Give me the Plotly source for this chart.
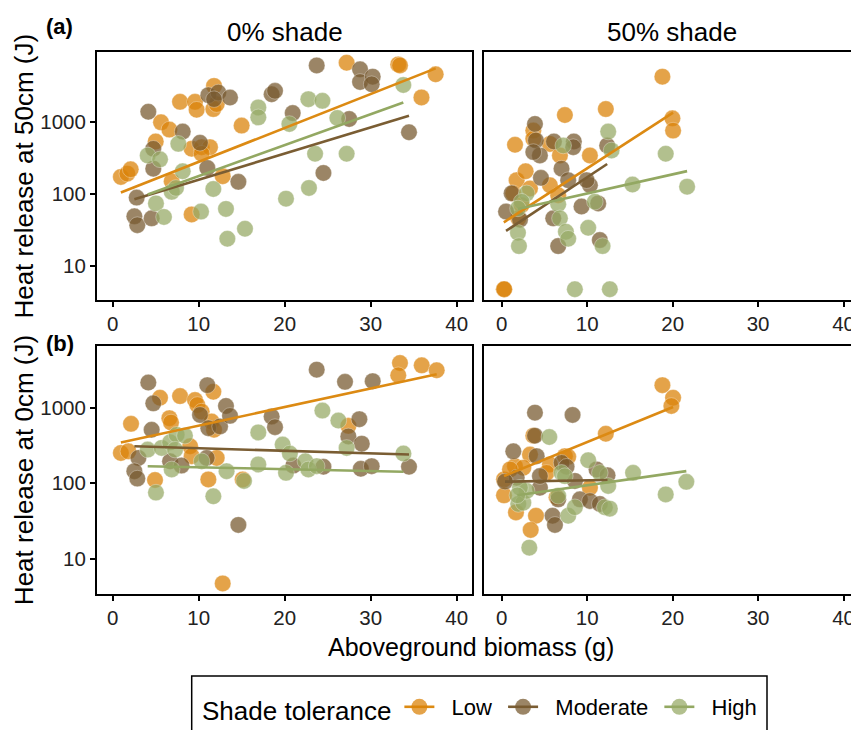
import plotly.graph_objects as go

# ---------------- data ----------------
categories = ["Low", "Moderate", "High"]

# (a) 0% shade, heat release at 50 cm
a0_low_x = [0.95, 1.70, 2.09, 5.0, 5.62, 6.59, 6.86, 7.83, 9.18, 9.57, 9.76, 9.18, 10.34, 11.31, 10.34, 11.78, 11.70, 12.09, 12.79, 14.99, 27.2, 33.2, 33.4, 35.9, 37.55]
a0_low_y = [172, 191, 219, 532, 980, 778, 150, 1885, 52, 1885, 1463, 422, 444, 444, 360, 3125, 1496, 1750, 176, 883, 6550, 6210, 6010, 2165, 4530]
a0_mod_x = [4.14, 4.72, 4.72, 2.79, 2.52, 2.86, 4.53, 8.14, 10.15, 11.0, 11.12, 12.28, 13.64, 11.78, 14.61, 18.48, 18.87, 20.93, 23.72, 24.5, 27.5, 28.76, 28.76, 30.23, 30.11, 34.45]
a0_mod_y = [1373, 422, 224, 89, 49, 37, 46, 730, 511, 229, 2330, 2533, 2160, 2050, 147, 2400, 2670, 1316, 6010, 195, 1089, 5300, 3548, 4200, 3300, 714]
a0_high_x = [4.07, 5.50, 7.63, 8.14, 6.86, 7.36, 5.03, 5.96, 10.27, 11.70, 13.17, 13.33, 15.38, 16.93, 16.93, 20.15, 20.54, 22.75, 24.38, 23.53, 22.82, 26.12, 27.2, 33.79]
a0_high_y = [341, 301, 494, 206, 107, 121, 74, 48, 57, 117, 62, 24, 33, 1574, 1148, 86, 929, 2050, 1946, 360, 121, 1125, 360, 3220]

# (a) 50% shade, heat release at 50 cm
a50_low_x = [0.25, 0.30, 1.56, 1.75, 2.80, 1.36, 3.31, 2.33, 1.94, 3.70, 3.70, 5.64, 6.81, 7.39, 10.32, 12.18, 5.64, 6.61, 18.8, 19.97, 20.05]
a50_low_y = [4.8, 4.8, 479, 155, 206, 102, 119, 70, 46, 753, 579, 493, 341, 1236, 341, 1496, 132, 96, 4200, 1112, 753]
a50_mod_x = [0.51, 1.16, 2.14, 3.89, 4.0, 4.47, 3.70, 6.11, 8.44, 8.37, 7.0, 4.59, 7.78, 10.32, 9.93, 9.34, 11.29, 6.03, 6.61, 11.48, 12.34]
a50_mod_y = [57, 102, 44, 930, 550, 341, 380, 532, 532, 444, 224, 167, 155, 132, 155, 67, 74, 46, 19, 23, 468]
a50_high_x = [12.46, 12.85, 7.2, 2.92, 2.33, 6.61, 6.81, 7.51, 7.78, 10.12, 11.8, 1.9, 2.02, 8.56, 12.65, 15.3, 19.19, 21.69, 10.9, 1.9]
a50_high_y = [730, 400, 468, 102, 78, 72, 46, 30, 24, 34, 19, 29, 19, 4.8, 4.8, 135, 360, 126, 78, 63]

# (b) 0% shade, heat release at 0 cm
b0_low_x = [0.95, 1.82, 2.13, 5.5, 4.92, 6.59, 6.78, 7.83, 9.57, 9.84, 10.34, 11.7, 11.5, 11.78, 9.0, 9.18, 12.09, 11.12, 15.11, 12.79, 27.4, 33.4, 33.2, 35.93, 37.67]
b0_low_y = [251, 264, 611, 1352, 110, 725, 635, 1422, 1261, 1084, 886, 1622, 655, 509, 308, 228, 216, 112, 112, 4.7, 574, 3900, 2683, 3630, 3125]
b0_mod_x = [4.14, 4.72, 4.53, 2.99, 2.52, 2.86, 6.67, 8.0, 10.15, 11.0, 11.12, 12.48, 13.17, 13.64, 10.93, 14.61, 18.48, 18.87, 21.0, 24.5, 23.72, 27.01, 27.4, 28.68, 28.96, 28.85, 30.23, 30.11, 34.45]
b0_mod_y = [2150, 1140, 509, 216, 144, 115, 195, 171, 801, 1985, 535, 564, 1052, 778, 216, 28, 762, 552, 171, 165, 3186, 2195, 416, 703, 333, 155, 2240, 168, 165]
b0_high_x = [4.07, 5.69, 6.67, 7.43, 8.4, 7.25, 6.86, 5.03, 10.34, 13.24, 15.27, 11.7, 16.93, 16.93, 19.76, 20.6, 20.15, 22.4, 22.75, 23.72, 24.38, 26.24, 27.2, 33.8]
b0_high_y = [278, 293, 347, 437, 425, 278, 152, 75, 195, 144, 107, 67, 470, 177, 324, 247, 137, 195, 152, 168, 914, 675, 293, 247]

# (b) 50% shade, heat release at 0 cm
b50_low_x = [18.8, 20.05, 19.85, 12.18, 3.7, 3.31, 7.39, 7.78, 5.64, 1.55, 2.53, 0.27, 0.27, 1.67, 4.01, 3.39, 6.42, 10.32, 5.25, 0.97]
b50_low_y = [1985, 1353, 1052, 451, 425, 239, 228, 223, 177, 168, 160, 112, 69, 41, 37, 24, 65, 87, 137, 152]
b50_mod_x = [3.89, 8.29, 1.36, 3.89, 4.09, 7.0, 7.59, 8.57, 4.47, 9.15, 10.32, 11.48, 5.95, 6.23, 1.75, 11.1, 12.38, 6.61, 0.39, 4.47]
b50_mod_y = [859, 801, 264, 425, 228, 186, 165, 107, 87, 61, 58, 53, 37, 28, 118, 152, 127, 61, 105, 124]
b50_high_x = [5.57, 10.12, 15.37, 21.6, 19.19, 3.23, 7.78, 8.56, 12.06, 12.65, 7.0, 7.39, 11.48, 12.46, 1.94, 2.53, 2.92, 6.61, 2.14, 1.83]
b50_high_y = [408, 201, 137, 104, 71, 14, 37, 48, 48, 46, 137, 124, 137, 92, 53, 55, 79, 68, 87, 69]

# fitted lines (log10(y) = intercept + slope * x), per panel in order Low, Moderate, High
a0_fit_intercept = [1.975, 1.834, 1.819]
a0_fit_slope = [0.04694, 0.03627, 0.04283]
a50_fit_intercept = [1.588, 1.449, 1.740]
a50_fit_slope = [0.07665, 0.0782, 0.02654]
b0_fit_intercept = [2.516, 2.497, 2.235]
b0_fit_slope = [0.02458, -0.00342, -0.00249]
b50_fit_intercept = [2.082, 2.019, 1.810]
b50_fit_slope = [0.0462, 0.0018, 0.01618]

x_ticks = [0, 10, 20, 30, 40]
y_ticks = [10, 100, 1000]
y_tick_labels = ["10", "100", "1000"]
col_titles = ["0% shade", "50% shade"]
row_tags = ["(a)", "(b)"]
y_titles = ["Heat release at 50cm (J)", "Heat release at 0cm (J)"]
x_title = "Aboveground biomass (g)"
legend_title = "Shade tolerance"

# ---------------- styling ----------------
# the page body has an 8px margin, so the figure is drawn 8px in from the window corner
OFF = 8
W, H = 859 - OFF, 730 - OFF
FONT = "Liberation Sans, Arial, Helvetica, sans-serif"
point_colors = ["rgba(218,131,10,0.74)", "rgba(120,91,48,0.74)", "rgba(151,170,102,0.74)"]
line_colors = ["#DC8A13", "#7A5D33", "#93A862"]
NB = "\u00a0"


def px_x(p):
    return (p - OFF) / W


def px_y(p):
    return 1 - (p - OFF) / H


panels = [
    ("x", "y", [(a0_low_x, a0_low_y), (a0_mod_x, a0_mod_y), (a0_high_x, a0_high_y)], (a0_fit_intercept, a0_fit_slope)),
    ("x2", "y2", [(a50_low_x, a50_low_y), (a50_mod_x, a50_mod_y), (a50_high_x, a50_high_y)], (a50_fit_intercept, a50_fit_slope)),
    ("x3", "y3", [(b0_low_x, b0_low_y), (b0_mod_x, b0_mod_y), (b0_high_x, b0_high_y)], (b0_fit_intercept, b0_fit_slope)),
    ("x4", "y4", [(b50_low_x, b50_low_y), (b50_mod_x, b50_mod_y), (b50_high_x, b50_high_y)], (b50_fit_intercept, b50_fit_slope)),
]

fig = go.Figure()

for xa, ya, groups, (icpt, slp) in panels:
    for k, (gx, gy) in enumerate(groups):
        fig.add_trace(go.Scatter(
            x=gx, y=gy, mode="markers", xaxis=xa, yaxis=ya, showlegend=False,
            marker=dict(size=16.5, color=point_colors[k],
                        line=dict(color="rgba(255,255,255,0.55)", width=0.6)),
            hoverinfo="skip"))
    for k, (gx, gy) in enumerate(groups):
        x0, x1 = min(gx), max(gx)
        fig.add_trace(go.Scatter(
            x=[x0, x1], y=[10 ** (icpt[k] + slp[k] * x0), 10 ** (icpt[k] + slp[k] * x1)],
            mode="lines", xaxis=xa, yaxis=ya, showlegend=False,
            line=dict(color=line_colors[k], width=2.6), hoverinfo="skip"))

# legend entries
for k, name in enumerate(categories):
    fig.add_trace(go.Scatter(
        x=[None], y=[None], mode="lines+markers", name=NB * 2 + name + NB, xaxis="x", yaxis="y",
        marker=dict(size=16, color=point_colors[k]),
        line=dict(color=line_colors[k], width=2.6)))

col_dom = [[px_x(96.7), px_x(472.3)], [px_x(484.0), 1.0]]
row_dom = [[px_y(302.3), px_y(52.7)], [px_y(599.0), px_y(349.0)]]
x_ranges = [[-1.86, 41.81], [-2.07, 41.8]]
y_ranges = [[0.534, 3.96], [0.531, 3.814]]

axis_common = dict(showline=True, linecolor="black", linewidth=1.5, showgrid=False,
                   zeroline=False, ticks="outside", ticklen=5, tickwidth=2.2, tickcolor="black",
                   tickfont=dict(family=FONT, size=20.5, color="#222"))

layout = dict(width=W, height=H, margin=dict(l=0, r=0, t=0, b=0),
              plot_bgcolor="white", paper_bgcolor="white",
              font=dict(family=FONT, color="black"))

for i, (xa, ya, _, _) in enumerate(panels):
    r, c = divmod(i, 2)
    xkey = "xaxis" if xa == "x" else "xaxis" + xa[1:]
    ykey = "yaxis" if ya == "y" else "yaxis" + ya[1:]
    layout[xkey] = dict(axis_common, domain=col_dom[c], anchor=ya, range=x_ranges[c],
                        tickvals=x_ticks, mirror=True)
    yd = dict(axis_common, domain=row_dom[r], anchor=xa, type="log", range=y_ranges[r],
              tickvals=y_ticks, ticktext=y_tick_labels)
    if c == 0:
        yd["mirror"] = True
    else:
        yd["mirror"] = False
        yd["ticks"] = ""
        yd["showticklabels"] = False
    layout[ykey] = yd

annotations = []
col_centers = [284.5, 672.0]
for c, t in enumerate(col_titles):
    annotations.append(dict(text=t, x=px_x(col_centers[c]), y=px_y(32.5), xref="paper", yref="paper",
                            showarrow=False, xanchor="center", yanchor="middle",
                            font=dict(family=FONT, size=26, color="black")))
tag_y = [27, 346]
ytitle_y = [178, 474]
for r in range(2):
    annotations.append(dict(text="<b>%s</b>" % row_tags[r], x=px_x(44), y=px_y(tag_y[r]), xref="paper",
                            yref="paper", showarrow=False, xanchor="left", yanchor="middle",
                            font=dict(family=FONT, size=22, color="black")))
    annotations.append(dict(text=y_titles[r], x=px_x(24), y=px_y(ytitle_y[r]), xref="paper", yref="paper",
                            showarrow=False, xanchor="center", yanchor="middle", textangle=-90,
                            font=dict(family=FONT, size=26, color="black")))
annotations.append(dict(text=x_title, x=px_x(471), y=px_y(652), xref="paper", yref="paper",
                        showarrow=False, xanchor="center", yanchor="middle",
                        font=dict(family=FONT, size=25, color="black")))
layout["annotations"] = annotations

# legend frame
layout["shapes"] = [dict(type="rect", xref="paper", yref="paper",
                         x0=px_x(191.7), x1=px_x(767), y0=px_y(760), y1=px_y(681.5),
                         line=dict(color="black", width=1.5), fillcolor="rgba(0,0,0,0)", layer="above")]

layout["legend"] = dict(orientation="h", x=px_x(200), y=px_y(692), xanchor="left", yanchor="top",
                        borderwidth=0, bgcolor="rgba(0,0,0,0)",
                        font=dict(family=FONT, size=22, color="black"),
                        title=dict(text=legend_title, font=dict(family=FONT, size=26, color="black")))
layout["showlegend"] = True

fig.update_layout(**layout)
fig.write_html("out.html")
